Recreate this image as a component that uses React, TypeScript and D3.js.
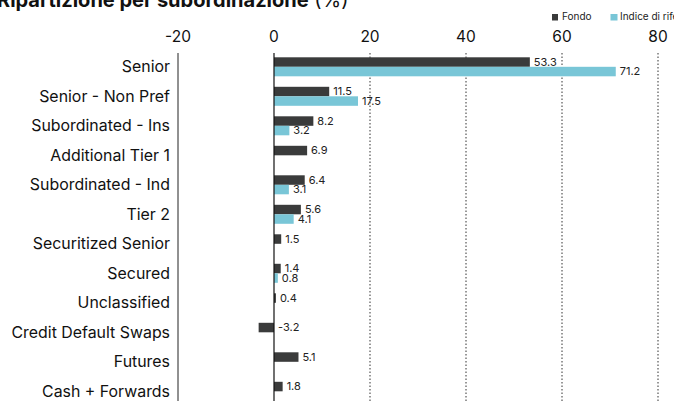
import React from "react";
import * as d3 from "d3";

const categories = [
  "Senior",
  "Senior - Non Pref",
  "Subordinated - Ins",
  "Additional Tier 1",
  "Subordinated - Ind",
  "Tier 2",
  "Securitized Senior",
  "Secured",
  "Unclassified",
  "Credit Default Swaps",
  "Futures",
  "Cash + Forwards",
];
const fondo: (number | null)[] = [53.3, 11.5, 8.2, 6.9, 6.4, 5.6, 1.5, 1.4, 0.4, -3.2, 5.1, 1.8];
const indice: (number | null)[] = [71.2, 17.5, 3.2, null, 3.1, 4.1, null, 0.8, null, null, null, null];
const xTicks = [-20, 0, 20, 40, 60, 80];
const seriesNames = ["Fondo", "Indice di riferimento"];

const W = 674;
const H = 401;
const FONT = "Inter, 'Liberation Sans', Arial, sans-serif";
const C_FONDO = "#3a3b3b";
const C_INDICE = "#79c6d7";

export default function App() {
  const x = d3.scaleLinear().domain([-20, 80]).range([178, 658]);
  const y = d3
    .scaleBand<string>()
    .domain(categories)
    .range([52.05, 52.05 + 12 * 29.5])
    .padding(0);
  const barH = 9.5;
  const top = 53;

  const series = [
    { name: seriesNames[0], values: fondo, color: C_FONDO, off: -barH },
    { name: seriesNames[1], values: indice, color: C_INDICE, off: 0 },
  ];

  return (
    <svg
      width={W}
      height={H}
      style={{ position: "absolute", left: 0, top: 0, background: "#fff" }}
      fontFamily={FONT}
    >
      <text x={-3} y={7} fontSize={20} fontWeight="bold" fill="#111">
        Ripartizione per subordinazione
        <tspan fontWeight="normal"> (%)</tspan>
      </text>

      {/* legend */}
      <g fontSize={10} fill="#222">
        <rect x={552} y={14} width={6} height={6.5} fill={C_FONDO} />
        <text x={562} y={17.5} dominantBaseline="middle">
          {seriesNames[0]}
        </text>
        <rect x={610.5} y={14} width={7} height={6.5} fill={C_INDICE} />
        <text x={620} y={17.5} dominantBaseline="middle">
          {seriesNames[1]}
        </text>
      </g>

      {/* grid */}
      {xTicks
        .filter((t) => t > 0)
        .map((t) => (
          <line
            key={t}
            x1={x(t)}
            x2={x(t)}
            y1={top}
            y2={H}
            stroke="#333"
            strokeWidth={1}
            strokeDasharray="1.5,2"
          />
        ))}
      <line x1={x(-20)} x2={x(-20)} y1={top} y2={H} stroke="#222" strokeWidth={1} />

      {/* tick labels */}
      {xTicks.map((t) => (
        <text
          key={t}
          x={x(t)}
          y={38}
          fontSize={15.5}
          textAnchor="middle"
          dominantBaseline="middle"
          fill="#111"
        >
          {t}
        </text>
      ))}

      {/* category labels */}
      {categories.map((c) => (
        <text
          key={c}
          x={170}
          y={(y(c) as number) + y.bandwidth() / 2 + 1}
          fontSize={15.9}
          textAnchor="end"
          dominantBaseline="middle"
          fill="#111"
        >
          {c}
        </text>
      ))}

      {/* bars */}
      {series.map((s) =>
        categories.map((c, i) => {
          const v = s.values[i];
          if (v === null) return null;
          const cy = (y(c) as number) + y.bandwidth() / 2 + s.off;
          const x0 = x(Math.min(0, v));
          const x1 = x(Math.max(0, v));
          return (
            <g key={s.name + c}>
              <rect x={x0} y={cy} width={Math.max(1, x1 - x0)} height={barH} fill={s.color} />
              <text
                x={Math.max(x(v), x(0)) + 4}
                y={cy + barH / 2 + 0.8}
                fontSize={11}
                dominantBaseline="middle"
                fill="#222"
              >
                {v.toFixed(1)}
              </text>
            </g>
          );
        })
      )}

      <line x1={x(0)} x2={x(0)} y1={top} y2={H} stroke="#111" strokeWidth={1.2} />
    </svg>
  );
}
